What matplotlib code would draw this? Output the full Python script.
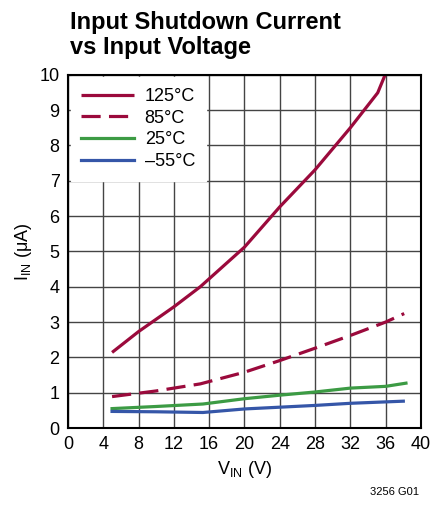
import matplotlib
matplotlib.use("Agg")
import matplotlib.pyplot as plt

plt.rcParams['font.family'] = ['Liberation Sans Narrow', 'Liberation Sans', 'DejaVu Sans']
plt.rcParams['mathtext.fontset'] = 'custom'
plt.rcParams['mathtext.rm'] = 'Liberation Sans'

# data
v_125 = [5, 8, 12, 15, 20, 24, 28, 32, 35.1, 36.6]
i_125 = [2.14, 2.73, 3.43, 4.0, 5.12, 6.26, 7.31, 8.5, 9.49, 10.4]
v_85 = [5, 10, 15, 20, 24, 28, 32, 36, 38.1]
i_85 = [0.89, 1.05, 1.25, 1.58, 1.91, 2.26, 2.62, 3.0, 3.24]
v_25 = [5, 10, 15.3, 20, 24, 28, 32, 36, 38.3]
i_25 = [0.55, 0.61, 0.68, 0.83, 0.93, 1.02, 1.13, 1.18, 1.27]
v_m55 = [5, 10, 15.3, 20, 24, 28, 32, 36, 38]
i_m55 = [0.47, 0.46, 0.44, 0.54, 0.59, 0.64, 0.70, 0.74, 0.76]

fig = plt.figure(figsize=(4.3, 5.12), dpi=100)
ax = fig.add_axes([0.158, 0.164, 0.821, 0.690])

red = '#9b0a3c'
ax.plot(v_125, i_125, color=red, lw=2.3, label='125°C', solid_capstyle='butt')
ax.plot(v_85, i_85, color=red, lw=2.3, dashes=(6, 2.6), label='85°C')
ax.plot(v_25, i_25, color='#3c9b44', lw=2.3, label='25°C')
ax.plot(v_m55, i_m55, color='#3556a8', lw=2.3, label='–55°C')

ax.set_xlim(0, 40)
ax.set_ylim(0, 10)
ax.set_xticks(range(0, 41, 4))
ax.set_yticks(range(0, 11))
ax.tick_params(length=0, labelsize=13, pad=6)
ax.grid(True, color='#444444', lw=1)
for s in ax.spines.values():
    s.set_linewidth(1.5)
    s.set_color('black')

ax.set_xlabel(r'V$_{\mathregular{IN}}$ (V)', fontsize=13)
ax.set_ylabel(r'I$_{\mathregular{IN}}$ (μA)', fontsize=13)

leg = ax.legend(loc='upper left', fontsize=13, frameon=True, fancybox=False,
                handlelength=2.9, handletextpad=0.6, labelspacing=0.25,
                borderaxespad=0.15, borderpad=0.6)
leg.get_frame().set_edgecolor('white')
leg.get_frame().set_facecolor('white')
leg.get_frame().set_alpha(1)

fig.text(0.162, 0.978, 'Input Shutdown Current\nvs Input Voltage', fontsize=17,
         fontweight='bold', va='top', ha='left', linespacing=1.1)
fig.text(0.975, 0.03, '3256 G01', fontsize=8, ha='right', va='bottom')

fig.savefig('out.png', dpi=100)
